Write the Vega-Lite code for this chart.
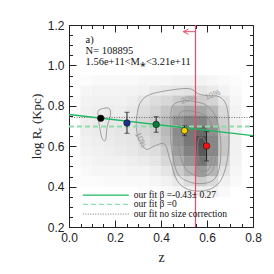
{
  "$schema": "https://vega.github.io/schema/vega-lite/v6.json",
  "width": 184,
  "height": 202,
  "autosize": "none",
  "padding": {"left": 69, "top": 25, "right": 21, "bottom": 47},
  "background": "white",
  "config": {"view": {"stroke": null}, "font": "Liberation Serif"},
  "datasets": {
    "heat": [
      {"z":0.075,"r":0.925,"d":0.01},{"z":0.125,"r":0.925,"d":0.02},{"z":0.175,"r":0.925,"d":0.02},{"z":0.225,"r":0.925,"d":0.02},{"z":0.275,"r":0.925,"d":0.02},{"z":0.325,"r":0.925,"d":0.03},{"z":0.375,"r":0.925,"d":0.03},{"z":0.425,"r":0.925,"d":0.03},{"z":0.475,"r":0.925,"d":0.04},{"z":0.525,"r":0.925,"d":0.04},{"z":0.575,"r":0.925,"d":0.04},{"z":0.625,"r":0.925,"d":0.03},{"z":0.675,"r":0.925,"d":0.02},{"z":0.725,"r":0.925,"d":0.01},
      {"z":0.075,"r":0.875,"d":0.03},{"z":0.125,"r":0.875,"d":0.04},{"z":0.175,"r":0.875,"d":0.04},{"z":0.225,"r":0.875,"d":0.04},{"z":0.275,"r":0.875,"d":0.04},{"z":0.325,"r":0.875,"d":0.05},{"z":0.375,"r":0.875,"d":0.07},{"z":0.425,"r":0.875,"d":0.08},{"z":0.475,"r":0.875,"d":0.09},{"z":0.525,"r":0.875,"d":0.10},{"z":0.575,"r":0.875,"d":0.09},{"z":0.625,"r":0.875,"d":0.07},{"z":0.675,"r":0.875,"d":0.04},{"z":0.725,"r":0.875,"d":0.02},
      {"z":0.075,"r":0.825,"d":0.04},{"z":0.125,"r":0.825,"d":0.05},{"z":0.175,"r":0.825,"d":0.05},{"z":0.225,"r":0.825,"d":0.05},{"z":0.275,"r":0.825,"d":0.06},{"z":0.325,"r":0.825,"d":0.09},{"z":0.375,"r":0.825,"d":0.12},{"z":0.425,"r":0.825,"d":0.14},{"z":0.475,"r":0.825,"d":0.18},{"z":0.525,"r":0.825,"d":0.20},{"z":0.575,"r":0.825,"d":0.18},{"z":0.625,"r":0.825,"d":0.15},{"z":0.675,"r":0.825,"d":0.09},{"z":0.725,"r":0.825,"d":0.03},
      {"z":0.075,"r":0.775,"d":0.05},{"z":0.125,"r":0.775,"d":0.06},{"z":0.175,"r":0.775,"d":0.07},{"z":0.225,"r":0.775,"d":0.06},{"z":0.275,"r":0.775,"d":0.08},{"z":0.325,"r":0.775,"d":0.12},{"z":0.375,"r":0.775,"d":0.15},{"z":0.425,"r":0.775,"d":0.20},{"z":0.475,"r":0.775,"d":0.28},{"z":0.525,"r":0.775,"d":0.32},{"z":0.575,"r":0.775,"d":0.32},{"z":0.625,"r":0.775,"d":0.26},{"z":0.675,"r":0.775,"d":0.13},{"z":0.725,"r":0.775,"d":0.04},
      {"z":0.075,"r":0.725,"d":0.06},{"z":0.125,"r":0.725,"d":0.07},{"z":0.175,"r":0.725,"d":0.08},{"z":0.225,"r":0.725,"d":0.08},{"z":0.275,"r":0.725,"d":0.10},{"z":0.325,"r":0.725,"d":0.14},{"z":0.375,"r":0.725,"d":0.17},{"z":0.425,"r":0.725,"d":0.24},{"z":0.475,"r":0.725,"d":0.38},{"z":0.525,"r":0.725,"d":0.44},{"z":0.575,"r":0.725,"d":0.45},{"z":0.625,"r":0.725,"d":0.34},{"z":0.675,"r":0.725,"d":0.16},{"z":0.725,"r":0.725,"d":0.05},
      {"z":0.075,"r":0.675,"d":0.06},{"z":0.125,"r":0.675,"d":0.07},{"z":0.175,"r":0.675,"d":0.08},{"z":0.225,"r":0.675,"d":0.09},{"z":0.275,"r":0.675,"d":0.10},{"z":0.325,"r":0.675,"d":0.14},{"z":0.375,"r":0.675,"d":0.17},{"z":0.425,"r":0.675,"d":0.25},{"z":0.475,"r":0.675,"d":0.42},{"z":0.525,"r":0.675,"d":0.50},{"z":0.575,"r":0.675,"d":0.55},{"z":0.625,"r":0.675,"d":0.40},{"z":0.675,"r":0.675,"d":0.18},{"z":0.725,"r":0.675,"d":0.05},
      {"z":0.075,"r":0.625,"d":0.05},{"z":0.125,"r":0.625,"d":0.06},{"z":0.175,"r":0.625,"d":0.07},{"z":0.225,"r":0.625,"d":0.08},{"z":0.275,"r":0.625,"d":0.09},{"z":0.325,"r":0.625,"d":0.12},{"z":0.375,"r":0.625,"d":0.15},{"z":0.425,"r":0.625,"d":0.22},{"z":0.475,"r":0.625,"d":0.40},{"z":0.525,"r":0.625,"d":0.50},{"z":0.575,"r":0.625,"d":0.65},{"z":0.625,"r":0.625,"d":0.44},{"z":0.675,"r":0.625,"d":0.20},{"z":0.725,"r":0.625,"d":0.05},
      {"z":0.075,"r":0.575,"d":0.04},{"z":0.125,"r":0.575,"d":0.05},{"z":0.175,"r":0.575,"d":0.06},{"z":0.225,"r":0.575,"d":0.07},{"z":0.275,"r":0.575,"d":0.08},{"z":0.325,"r":0.575,"d":0.10},{"z":0.375,"r":0.575,"d":0.12},{"z":0.425,"r":0.575,"d":0.18},{"z":0.475,"r":0.575,"d":0.36},{"z":0.525,"r":0.575,"d":0.46},{"z":0.575,"r":0.575,"d":0.62},{"z":0.625,"r":0.575,"d":0.44},{"z":0.675,"r":0.575,"d":0.20},{"z":0.725,"r":0.575,"d":0.05},
      {"z":0.075,"r":0.525,"d":0.03},{"z":0.125,"r":0.525,"d":0.04},{"z":0.175,"r":0.525,"d":0.05},{"z":0.225,"r":0.525,"d":0.05},{"z":0.275,"r":0.525,"d":0.06},{"z":0.325,"r":0.525,"d":0.07},{"z":0.375,"r":0.525,"d":0.09},{"z":0.425,"r":0.525,"d":0.14},{"z":0.475,"r":0.525,"d":0.28},{"z":0.525,"r":0.525,"d":0.38},{"z":0.575,"r":0.525,"d":0.52},{"z":0.625,"r":0.525,"d":0.36},{"z":0.675,"r":0.525,"d":0.15},{"z":0.725,"r":0.525,"d":0.04},
      {"z":0.075,"r":0.475,"d":0.02},{"z":0.125,"r":0.475,"d":0.03},{"z":0.175,"r":0.475,"d":0.03},{"z":0.225,"r":0.475,"d":0.03},{"z":0.275,"r":0.475,"d":0.04},{"z":0.325,"r":0.475,"d":0.04},{"z":0.375,"r":0.475,"d":0.06},{"z":0.425,"r":0.475,"d":0.09},{"z":0.475,"r":0.475,"d":0.18},{"z":0.525,"r":0.475,"d":0.26},{"z":0.575,"r":0.475,"d":0.36},{"z":0.625,"r":0.475,"d":0.26},{"z":0.675,"r":0.475,"d":0.10},{"z":0.725,"r":0.475,"d":0.03},
      {"z":0.075,"r":0.425,"d":0.01},{"z":0.125,"r":0.425,"d":0.01},{"z":0.175,"r":0.425,"d":0.02},{"z":0.225,"r":0.425,"d":0.02},{"z":0.275,"r":0.425,"d":0.02},{"z":0.325,"r":0.425,"d":0.02},{"z":0.375,"r":0.425,"d":0.03},{"z":0.425,"r":0.425,"d":0.05},{"z":0.475,"r":0.425,"d":0.08},{"z":0.525,"r":0.425,"d":0.13},{"z":0.575,"r":0.425,"d":0.18},{"z":0.625,"r":0.425,"d":0.13},{"z":0.675,"r":0.425,"d":0.05},{"z":0.725,"r":0.425,"d":0.02},
      {"z":0.325,"r":0.375,"d":0.01},{"z":0.375,"r":0.375,"d":0.01},{"z":0.425,"r":0.375,"d":0.02},{"z":0.475,"r":0.375,"d":0.03},{"z":0.525,"r":0.375,"d":0.05},{"z":0.575,"r":0.375,"d":0.06},{"z":0.625,"r":0.375,"d":0.05},{"z":0.675,"r":0.375,"d":0.02}
    ],
    "contours": [
      {"c":"s","i":0,"z":0.130,"r":0.779},{"c":"s","i":1,"z":0.173,"r":0.788},{"c":"s","i":2,"z":0.180,"r":0.754},{"c":"s","i":3,"z":0.166,"r":0.697},{"c":"s","i":4,"z":0.159,"r":0.631},{"c":"s","i":5,"z":0.144,"r":0.639},{"c":"s","i":6,"z":0.133,"r":0.697},{"c":"s","i":7,"z":0.127,"r":0.746},
      {"c":"a","i":0,"z":0.295,"r":0.75},{"c":"a","i":1,"z":0.31,"r":0.815},{"c":"a","i":2,"z":0.35,"r":0.855},{"c":"a","i":3,"z":0.437,"r":0.877},{"c":"a","i":4,"z":0.523,"r":0.885},{"c":"a","i":5,"z":0.56,"r":0.86},{"c":"a","i":6,"z":0.60,"r":0.85},{"c":"a","i":7,"z":0.653,"r":0.845},{"c":"a","i":8,"z":0.685,"r":0.80},{"c":"a","i":9,"z":0.695,"r":0.70},{"c":"a","i":10,"z":0.693,"r":0.57},{"c":"a","i":11,"z":0.675,"r":0.47},{"c":"a","i":12,"z":0.645,"r":0.41},{"c":"a","i":13,"z":0.59,"r":0.38},{"c":"a","i":14,"z":0.52,"r":0.385},{"c":"a","i":15,"z":0.47,"r":0.43},{"c":"a","i":16,"z":0.44,"r":0.53},{"c":"a","i":17,"z":0.415,"r":0.61},{"c":"a","i":18,"z":0.37,"r":0.60},{"c":"a","i":19,"z":0.335,"r":0.585},{"c":"a","i":20,"z":0.305,"r":0.63},{"c":"a","i":21,"z":0.293,"r":0.69},
      {"c":"b","i":0,"z":0.45,"r":0.80},{"c":"b","i":1,"z":0.50,"r":0.825},{"c":"b","i":2,"z":0.55,"r":0.82},{"c":"b","i":3,"z":0.60,"r":0.80},{"c":"b","i":4,"z":0.64,"r":0.74},{"c":"b","i":5,"z":0.66,"r":0.62},{"c":"b","i":6,"z":0.655,"r":0.50},{"c":"b","i":7,"z":0.63,"r":0.435},{"c":"b","i":8,"z":0.58,"r":0.415},{"c":"b","i":9,"z":0.52,"r":0.425},{"c":"b","i":10,"z":0.47,"r":0.47},{"c":"b","i":11,"z":0.445,"r":0.60},{"c":"b","i":12,"z":0.443,"r":0.72},
      {"c":"c","i":0,"z":0.48,"r":0.76},{"c":"c","i":1,"z":0.55,"r":0.77},{"c":"c","i":2,"z":0.61,"r":0.73},{"c":"c","i":3,"z":0.635,"r":0.62},{"c":"c","i":4,"z":0.63,"r":0.50},{"c":"c","i":5,"z":0.60,"r":0.455},{"c":"c","i":6,"z":0.55,"r":0.455},{"c":"c","i":7,"z":0.50,"r":0.50},{"c":"c","i":8,"z":0.475,"r":0.62},
      {"c":"d","i":0,"z":0.555,"r":0.70},{"c":"d","i":1,"z":0.60,"r":0.69},{"c":"d","i":2,"z":0.62,"r":0.60},{"c":"d","i":3,"z":0.615,"r":0.50},{"c":"d","i":4,"z":0.585,"r":0.475},{"c":"d","i":5,"z":0.56,"r":0.50},{"c":"d","i":6,"z":0.55,"r":0.60},
      {"c":"e","i":0,"z":0.565,"r":0.64},{"c":"e","i":1,"z":0.59,"r":0.63},{"c":"e","i":2,"z":0.60,"r":0.56},{"c":"e","i":3,"z":0.59,"r":0.505},{"c":"e","i":4,"z":0.57,"r":0.515},{"c":"e","i":5,"z":0.56,"r":0.57}
    ],
    "points": [
      {"z":0.138,"r":0.738,"lo":0.738,"hi":0.738,"col":"#000000"},
      {"z":0.252,"r":0.715,"lo":0.664,"hi":0.768,"col":"#1c2f8f"},
      {"z":0.379,"r":0.708,"lo":0.669,"hi":0.746,"col":"#0b7a3b"},
      {"z":0.502,"r":0.677,"lo":0.652,"hi":0.701,"col":"#e8d000"},
      {"z":0.598,"r":0.601,"lo":0.527,"hi":0.672,"col":"#ff1010"}
    ]
  },
  "layer": [
    {
      "data": {"name": "heat"},
      "mark": {"type": "rect", "width": 11.9, "height": 10.4},
      "encoding": {
        "x": {"field": "z", "type": "quantitative", "scale": {"domain": [0, 0.8], "nice": false, "zero": false},
          "axis": {"orient": "bottom", "title": "z", "titleFont": "Liberation Serif", "titleFontSize": 14, "titleFontWeight": "normal", "titleColor": "#222", "titlePadding": 4,
            "values": [0,0.05,0.1,0.15,0.2,0.25,0.3,0.35,0.4,0.45,0.5,0.55,0.6,0.65,0.7,0.75,0.8],
            "labelExpr": "abs(datum.value*5 - round(datum.value*5)) < 0.001 ? format(datum.value, '.1f') : ''",
            "tickSize": {"condition": {"test": "abs(datum.value*5 - round(datum.value*5)) < 0.001", "value": -7}, "value": -3.5},
            "tickColor": "#222", "domainColor": "#222", "labelFont": "Liberation Sans", "labelFontSize": 12, "labelColor": "#222", "labelPadding": 12, "labelFlush": false, "labelOverlap": false, "grid": false}},
        "y": {"field": "r", "type": "quantitative", "scale": {"domain": [0.2, 1.2], "nice": false, "zero": false},
          "axis": {"orient": "left", "title": "log Rₑ (Kpc)", "titleFont": "Liberation Serif", "titleFontSize": 13, "titleFontWeight": "normal", "titleColor": "#222", "titlePadding": 4,
            "values": [0.2,0.25,0.3,0.35,0.4,0.45,0.5,0.55,0.6,0.65,0.7,0.75,0.8,0.85,0.9,0.95,1.0,1.05,1.1,1.15,1.2],
            "labelExpr": "abs(datum.value*5 - round(datum.value*5)) < 0.001 ? format(datum.value, '.1f') : ''",
            "tickSize": {"condition": {"test": "abs(datum.value*5 - round(datum.value*5)) < 0.001", "value": -7}, "value": -3.5},
            "tickColor": "#222", "domainColor": "#222", "labelFont": "Liberation Sans", "labelFontSize": 12, "labelColor": "#222", "labelPadding": 12, "labelOverlap": false, "grid": false}},
        "color": {"field": "d", "type": "quantitative", "scale": {"domain": [0, 1], "range": ["#ffffff", "#000000"]}, "legend": null}
      }
    },
    {
      "data": {"name": "contours"},
      "mark": {"type": "line", "stroke": "#8a8a8a", "strokeWidth": 0.8, "interpolate": "cardinal-closed"},
      "encoding": {
        "x": {"field": "z", "type": "quantitative", "axis": null},
        "y": {"field": "r", "type": "quantitative", "axis": null},
        "detail": {"field": "c"},
        "order": {"field": "i", "type": "quantitative"}
      }
    },
    {
      "data": {"values": [{"z": 0.625, "r": 0.852, "t": "10%", "a": -20}, {"z": 0.52, "r": 0.83, "t": "20%", "a": -15}, {"z": 0.31, "r": 0.63, "t": "10%", "a": 65}]},
      "mark": {"type": "text", "fontSize": 8, "color": "#999999", "font": "Liberation Sans"},
      "encoding": {
        "x": {"field": "z", "type": "quantitative", "axis": null},
        "y": {"field": "r", "type": "quantitative", "axis": null},
        "text": {"field": "t"},
        "angle": {"field": "a", "type": "quantitative", "scale": null}
      }
    },
    {
      "data": {"values": [{"z": 0.55}]},
      "mark": {"type": "rule", "color": "#f04a6a", "strokeWidth": 1.2},
      "encoding": {
        "x": {"field": "z", "type": "quantitative",
          "axis": {"orient": "top", "title": null, "labels": false, "domainColor": "#222", "tickColor": "#222",
            "values": [0,0.05,0.1,0.15,0.2,0.25,0.3,0.35,0.4,0.45,0.5,0.55,0.6,0.65,0.7,0.75,0.8],
            "tickSize": {"condition": {"test": "abs(datum.value*5 - round(datum.value*5)) < 0.001", "value": -7}, "value": -3.5}, "grid": false}}
      }
    },
    {
      "data": {"values": [{"g": "s", "i": 0, "z": 0.55, "r": 1.167}, {"g": "s", "i": 1, "z": 0.497, "r": 1.167}, {"g": "h", "i": 0, "z": 0.519, "r": 1.18}, {"g": "h", "i": 1, "z": 0.497, "r": 1.167}, {"g": "h", "i": 2, "z": 0.519, "r": 1.154}]},
      "mark": {"type": "line", "color": "#f04a6a", "strokeWidth": 1},
      "encoding": {
        "x": {"field": "z", "type": "quantitative", "axis": null},
        "y": {"field": "r", "type": "quantitative",
          "axis": {"orient": "right", "title": null, "labels": false, "domainColor": "#222", "tickColor": "#222",
            "values": [0.2,0.25,0.3,0.35,0.4,0.45,0.5,0.55,0.6,0.65,0.7,0.75,0.8,0.85,0.9,0.95,1.0,1.05,1.1,1.15,1.2],
            "tickSize": {"condition": {"test": "abs(datum.value*5 - round(datum.value*5)) < 0.001", "value": -7}, "value": -3.5}, "grid": false}},
        "detail": {"field": "g"},
        "order": {"field": "i", "type": "quantitative"}
      }
    },
    {
      "data": {"values": [{"z": 0, "r": 0.742}, {"z": 0.8, "r": 0.742}]},
      "mark": {"type": "line", "color": "#555555", "strokeWidth": 0.8, "strokeDash": [1, 1.5]},
      "encoding": {"x": {"field": "z", "type": "quantitative", "axis": null}, "y": {"field": "r", "type": "quantitative", "axis": null}}
    },
    {
      "data": {"values": [{"z": 0, "r": 0.697}, {"z": 0.8, "r": 0.697}]},
      "mark": {"type": "line", "color": "#8fdcb0", "strokeWidth": 2, "strokeDash": [5, 3]},
      "encoding": {"x": {"field": "z", "type": "quantitative", "axis": null}, "y": {"field": "r", "type": "quantitative", "axis": null}}
    },
    {
      "data": {"values": [{"z": 0, "r": 0.757}, {"z": 0.8, "r": 0.652}]},
      "mark": {"type": "line", "color": "#1fb862", "strokeWidth": 1.3},
      "encoding": {"x": {"field": "z", "type": "quantitative", "axis": null}, "y": {"field": "r", "type": "quantitative", "axis": null}}
    },
    {
      "data": {"name": "points"},
      "mark": {"type": "rule", "color": "#222", "strokeWidth": 1},
      "encoding": {"x": {"field": "z", "type": "quantitative", "axis": null}, "y": {"field": "lo", "type": "quantitative", "axis": null}, "y2": {"field": "hi"}}
    },
    {
      "data": {"name": "points"},
      "mark": {"type": "tick", "orient": "horizontal", "color": "#222", "size": 5, "thickness": 1},
      "encoding": {"x": {"field": "z", "type": "quantitative", "axis": null}, "y": {"field": "lo", "type": "quantitative", "axis": null}}
    },
    {
      "data": {"name": "points"},
      "mark": {"type": "tick", "orient": "horizontal", "color": "#222", "size": 5, "thickness": 1},
      "encoding": {"x": {"field": "z", "type": "quantitative", "axis": null}, "y": {"field": "hi", "type": "quantitative", "axis": null}}
    },
    {
      "data": {"name": "points"},
      "mark": {"type": "circle", "size": 42, "opacity": 1, "stroke": "#111", "strokeWidth": 0.6},
      "encoding": {"x": {"field": "z", "type": "quantitative", "axis": null}, "y": {"field": "r", "type": "quantitative", "axis": null}, "fill": {"field": "col", "type": "nominal", "scale": null}}
    },
    {
      "data": {"values": [{"z": 0.06, "r": 0.358}, {"z": 0.26, "r": 0.358}]},
      "mark": {"type": "line", "color": "#1fb862", "strokeWidth": 1.3},
      "encoding": {"x": {"field": "z", "type": "quantitative", "axis": null}, "y": {"field": "r", "type": "quantitative", "axis": null}}
    },
    {
      "data": {"values": [{"z": 0.06, "r": 0.312}, {"z": 0.26, "r": 0.312}]},
      "mark": {"type": "line", "color": "#8fdcb0", "strokeWidth": 1.3, "strokeDash": [5, 3]},
      "encoding": {"x": {"field": "z", "type": "quantitative", "axis": null}, "y": {"field": "r", "type": "quantitative", "axis": null}}
    },
    {
      "data": {"values": [{"z": 0.06, "r": 0.264}, {"z": 0.26, "r": 0.264}]},
      "mark": {"type": "line", "color": "#555555", "strokeWidth": 0.8, "strokeDash": [1, 1.5]},
      "encoding": {"x": {"field": "z", "type": "quantitative", "axis": null}, "y": {"field": "r", "type": "quantitative", "axis": null}}
    },
    {
      "data": {"values": [{"z": 0.281, "r": 0.358, "t": "our fit β =-0.43± 0.27"}, {"z": 0.281, "r": 0.312, "t": "our fit β =0"}, {"z": 0.281, "r": 0.264, "t": "our fit no size correction"}]},
      "mark": {"type": "text", "align": "left", "baseline": "middle", "font": "Liberation Serif", "fontSize": 9.5, "color": "#111"},
      "encoding": {"x": {"field": "z", "type": "quantitative", "axis": null}, "y": {"field": "r", "type": "quantitative", "axis": null}, "text": {"field": "t"}}
    },
    {
      "data": {"values": [{"z": 0.072, "r": 1.127, "t": "a)"}, {"z": 0.072, "r": 1.07, "t": "N=  108895"}, {"z": 0.072, "r": 1.018, "t": "1.56e+11<M⁎<3.21e+11"}]},
      "mark": {"type": "text", "align": "left", "baseline": "middle", "font": "Liberation Serif", "fontSize": 10.5, "color": "#111"},
      "encoding": {"x": {"field": "z", "type": "quantitative", "axis": null}, "y": {"field": "r", "type": "quantitative", "axis": null}, "text": {"field": "t"}}
    }
  ],
  "resolve": {"axis": {"x": "independent", "y": "independent"}}
}
